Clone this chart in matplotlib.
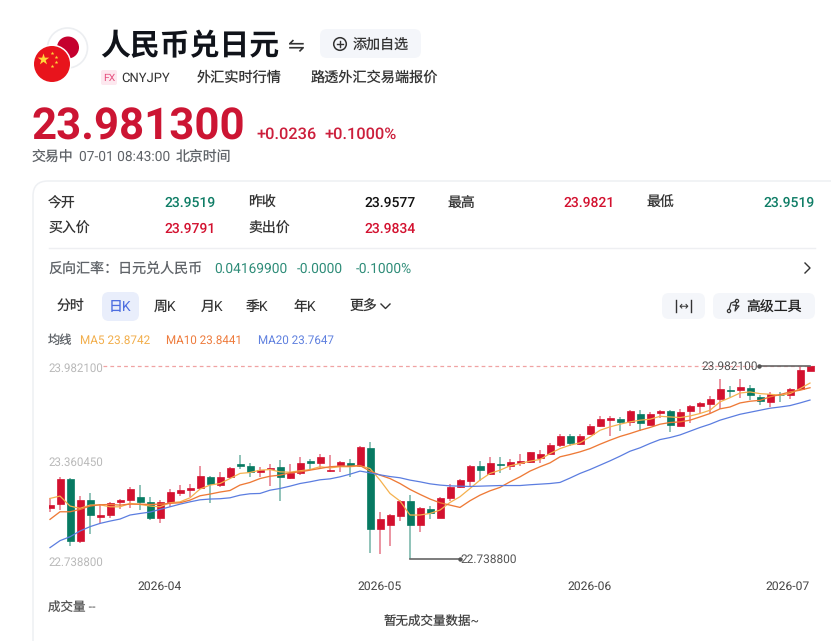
import matplotlib
matplotlib.use('Agg')
import matplotlib.pyplot as plt
import numpy as np
from matplotlib.patches import Circle, FancyBboxPatch

plt.rcParams['font.family'] = ['Roboto', 'Noto Sans CJK SC', 'DejaVu Sans']
plt.rcParams['text.hinting'] = 'no_hinting'

# daily candles, oldest first
opens = [23.071, 23.092, 23.259, 22.854, 23.120, 23.013, 23.024, 23.105, 23.124, 23.142,
         23.105, 23.007, 23.109, 23.169, 23.187, 23.199, 23.270, 23.217, 23.268, 23.352,
         23.341, 23.298, 23.322, 23.335, 23.264, 23.292, 23.369, 23.358, 23.305, 23.347,
         23.360, 23.339, 23.457, 22.931, 22.959, 23.019, 23.114, 22.959, 23.064, 23.007,
         23.131, 23.202, 23.245, 23.339, 23.287, 23.350, 23.341, 23.356, 23.365, 23.392,
         23.420, 23.474, 23.532, 23.482, 23.545, 23.598, 23.637, 23.643, 23.624, 23.673,
         23.607, 23.682, 23.695, 23.600, 23.693, 23.727, 23.740, 23.774, 23.828, 23.830,
         23.841, 23.785, 23.753, 23.800, 23.798, 23.836, 23.9519]
closes = [23.088, 23.259, 22.854, 23.120, 23.024, 23.024, 23.103, 23.120, 23.193, 23.105,
          23.007, 23.105, 23.174, 23.184, 23.199, 23.274, 23.221, 23.266, 23.328, 23.343,
          23.298, 23.313, 23.330, 23.270, 23.292, 23.362, 23.358, 23.397, 23.313, 23.367,
          23.343, 23.463, 22.934, 22.998, 23.024, 23.116, 22.959, 23.071, 23.034, 23.131,
          23.204, 23.247, 23.341, 23.315, 23.356, 23.345, 23.365, 23.369, 23.429, 23.420,
          23.472, 23.532, 23.485, 23.536, 23.600, 23.645, 23.648, 23.626, 23.695, 23.615,
          23.678, 23.697, 23.603, 23.688, 23.729, 23.748, 23.770, 23.838, 23.823, 23.849,
          23.798, 23.759, 23.802, 23.796, 23.836, 23.9577, 23.9813]
highs = [23.131, 23.270, 23.262, 23.146, 23.163, 23.094, 23.109, 23.127, 23.206, 23.217,
         23.142, 23.124, 23.191, 23.217, 23.221, 23.339, 23.277, 23.298, 23.335, 23.410,
         23.360, 23.335, 23.352, 23.377, 23.352, 23.399, 23.382, 23.416, 23.410, 23.371,
         23.382, 23.467, 23.497, 23.041, 23.030, 23.120, 23.152, 23.073, 23.082, 23.142,
         23.227, 23.253, 23.347, 23.371, 23.395, 23.395, 23.386, 23.414, 23.433, 23.446,
         23.485, 23.543, 23.543, 23.549, 23.613, 23.660, 23.660, 23.656, 23.699, 23.703,
         23.688, 23.699, 23.703, 23.710, 23.735, 23.753, 23.793, 23.903, 23.855, 23.903,
         23.860, 23.796, 23.817, 23.817, 23.845, 23.978, 23.9821]
lows = [23.045, 23.056, 22.824, 22.841, 22.899, 22.974, 23.007, 23.060, 23.067, 23.056,
        22.992, 22.970, 23.077, 23.148, 23.137, 23.189, 23.099, 23.202, 23.259, 23.320,
        23.270, 23.270, 23.210, 23.116, 23.259, 23.285, 23.313, 23.324, 23.302, 23.302,
        23.270, 23.335, 22.781, 22.775, 22.826, 22.987, 22.7388, 22.916, 23.000, 23.002,
        23.114, 23.195, 23.202, 23.242, 23.281, 23.296, 23.313, 23.341, 23.360, 23.362,
        23.414, 23.463, 23.467, 23.478, 23.538, 23.592, 23.532, 23.564, 23.596, 23.566,
        23.603, 23.648, 23.560, 23.596, 23.618, 23.673, 23.682, 23.708, 23.785, 23.778,
        23.763, 23.731, 23.720, 23.753, 23.774, 23.828, 23.9519]

ma5 = [23.131, 23.146, 23.082, 23.067, 23.088, 23.090, 23.077, 23.077, 23.099, 23.092,
       23.082, 23.077, 23.103, 23.109, 23.135, 23.191, 23.217, 23.227, 23.259, 23.292,
       23.298, 23.313, 23.317, 23.302, 23.300, 23.309, 23.317, 23.335, 23.328, 23.335,
       23.335, 23.341, 23.324, 23.249, 23.163, 23.114, 23.024, 23.024, 23.034, 23.056,
       23.105, 23.142, 23.195, 23.249, 23.292, 23.313, 23.341, 23.356, 23.371, 23.382,
       23.420, 23.452, 23.474, 23.489, 23.527, 23.570, 23.592, 23.609, 23.624, 23.635,
       23.641, 23.660, 23.656, 23.652, 23.662, 23.678, 23.699, 23.753, 23.780, 23.810,
       23.817, 23.806, 23.802, 23.796, 23.806, 23.838, 23.8742]
ma10 = [22.996, 23.045, 23.045, 23.060, 23.082, 23.090, 23.092, 23.088, 23.094, 23.094,
        23.092, 23.094, 23.099, 23.103, 23.120, 23.148, 23.159, 23.172, 23.182, 23.217,
        23.234, 23.259, 23.274, 23.281, 23.296, 23.302, 23.313, 23.324, 23.335, 23.339,
        23.339, 23.343, 23.307, 23.281, 23.259, 23.227, 23.189, 23.157, 23.127, 23.103,
        23.088, 23.073, 23.116, 23.152, 23.180, 23.202, 23.238, 23.270, 23.307, 23.335,
        23.360, 23.399, 23.414, 23.431, 23.452, 23.480, 23.506, 23.530, 23.549, 23.570,
        23.588, 23.609, 23.620, 23.624, 23.635, 23.656, 23.678, 23.708, 23.720, 23.746,
        23.757, 23.763, 23.785, 23.800, 23.817, 23.828, 23.8441]
ma20 = [22.814, 22.859, 22.884, 22.921, 22.949, 22.970, 22.985, 22.998, 23.024, 23.034,
        23.043, 23.060, 23.077, 23.094, 23.109, 23.122, 23.127, 23.129, 23.135, 23.152,
        23.161, 23.163, 23.184, 23.195, 23.210, 23.227, 23.238, 23.251, 23.257, 23.270,
        23.287, 23.307, 23.296, 23.283, 23.272, 23.264, 23.249, 23.238, 23.225, 23.217,
        23.212, 23.210, 23.208, 23.210, 23.212, 23.214, 23.214, 23.214, 23.219, 23.223,
        23.227, 23.234, 23.262, 23.292, 23.317, 23.345, 23.373, 23.403, 23.435, 23.457,
        23.485, 23.510, 23.523, 23.540, 23.564, 23.588, 23.609, 23.635, 23.654, 23.673,
        23.686, 23.699, 23.712, 23.720, 23.729, 23.746, 23.7647]

month_ticks = [11, 33, 54, 76]
month_labels = ['2026-04', '2026-05', '2026-06', '2026-07']
price_high = 23.9821
price_low = 22.7388
price_high_idx = 76
price_low_idx = 36

RED = '#d3112f'
GREEN = '#077a62'
TEXT = '#333333'
GREY = '#5f6368'
BTN = '#f4f6fa'

fig = plt.figure(figsize=(8.31, 6.41), dpi=100, facecolor='white')

# page layer in pixel coordinates
ui = fig.add_axes([0, 0, 1, 1])
ui.set_xlim(0, 831)
ui.set_ylim(641, 0)
ui.axis('off')


def label(x, y, s, size=10, color=TEXT, ha='left', weight='normal', **kw):
    # baseline alignment keeps latin and CJK runs on one line
    base = y + 0.36 * size * 100 / 72
    if ha == 'left':
        x -= 0.8
    return ui.text(x, base, s, fontsize=size, color=color, ha=ha, va='baseline', fontweight=weight, **kw)


def button(x0, y0, x1, y1, color=BTN, r=7):
    box = FancyBboxPatch((x0 + r, y0 + r), x1 - x0 - 2 * r, y1 - y0 - 2 * r,
                         boxstyle=f'round,pad={r}', fc=color, ec='none')
    ui.add_patch(box)


# flags
ui.add_patch(Circle((67.5, 48), 20, fc='white', ec='#eceef1', lw=1.2))
ui.add_patch(Circle((68, 47.5), 11, fc='#c5002e', ec='none'))
ui.add_patch(Circle((52, 64), 19.5, fc='white', ec='none'))
ui.add_patch(Circle((52, 64), 18, fc='#e8141c', ec='none'))
ui.scatter([42.7], [58.5], marker='*', s=75, color='#ffd83a', zorder=3, lw=0)
ui.scatter([51.7, 56, 56, 51.7], [53.3, 56.7, 61.7, 65.7], marker='*', s=8, color='#ffd83a', zorder=3, lw=0)

# header
label(101, 44, '人民币兑日元', size=21.5, color='#10131a', weight='bold')
label(295, 45, '⇋', size=14.5, color='#333333', ha='center', family='DejaVu Sans')
button(320, 29, 421, 58)
ui.add_patch(Circle((340, 44), 6.3, fc='none', ec='#333333', lw=1.1))
ui.plot([336.8, 343.2], [44, 44], color='#333333', lw=1)
ui.plot([340, 340], [40.8, 47.2], color='#333333', lw=1)
label(353, 44, '添加自选', size=10.1, color='#333333')
button(101, 70, 117, 85, color='#fde8ef', r=2)
label(109, 77.5, 'FX', size=7.5, color='#e6507f', ha='center')
label(122, 77, 'CNYJPY', size=9.4)
label(198, 77, '外汇实时行情', size=10.2)
label(311, 77, '路透外汇交易端报价', size=10.2)

label(32, 124, '23.981300', size=31.5, color='#cc1533', weight='bold')
label(257, 133, '+0.0236', size=11.8, color='#cc1f3c', weight='medium')
label(325, 133, '+0.1000%', size=11.8, color='#cc1f3c', weight='medium')
label(32, 156, '交易中', size=10, color=GREY)
label(80, 156, '07-01 08:43:00', size=9.9, color=GREY)
label(177, 156, '北京时间', size=10, color=GREY)

# quote card
ui.add_patch(FancyBboxPatch((48, 196), 820, 600, boxstyle='round,pad=15', fc='white', ec='#eef0f3', lw=1.1))

label(49, 201.5, '今开')
label(216, 201.5, '23.9519', color='#0f7d66', ha='right', weight='medium')
label(249, 201.5, '昨收')
label(416, 201.5, '23.9577', color='#111111', ha='right', weight='medium')
label(448, 201.5, '最高')
label(615, 201.5, '23.9821', color=RED, ha='right', weight='medium')
label(647, 201.5, '最低')
label(815, 201.5, '23.9519', color='#0f7d66', ha='right', weight='medium')
label(49, 228, '买入价')
label(216, 228, '23.9791', color=RED, ha='right', weight='medium')
label(249, 228, '卖出价')
label(416, 228, '23.9834', color=RED, ha='right', weight='medium')
ui.plot([49, 815], [247.5, 247.5], color='#eeeff2', lw=1)

label(49, 268, '反向汇率：日元兑人民币', size=10.1, color=GREY)
label(215, 268, '0.04169900', size=9.9, color='#2f8d79')
label(298, 268, '-0.0000', size=9.9, color='#2f8d79')
label(357, 268, '-0.1000%', size=9.9, color='#2f8d79')
ui.plot([805, 810, 805], [263, 268, 273], color='#333333', lw=1)

# period tabs
button(102, 292, 139, 321, color='#e9eefb')
label(57, 306, '分时')
label(110, 306, '日K', color='#4d6ee0')
label(155, 306, '周K')
label(202, 306, '月K')
label(247, 306, '季K')
label(294, 306, '年K')
label(350, 306, '更多')
ui.plot([381, 385.5, 390], [304, 308.5, 304], color='#333333', lw=1)

button(662, 293, 705, 319)
ui.plot([676, 676], [300, 312], color='#333333', lw=1)
ui.plot([691, 691], [300, 312], color='#333333', lw=1)
label(683.5, 306, '↔', size=8.5, color='#333333', ha='center', family='DejaVu Sans')
button(713, 293, 815, 319)
ui.plot([729, 731, 737, 735, 739, 733], [310, 303, 301, 311, 306, 305], color='#333333', lw=0.9)
ui.add_patch(Circle((729, 311), 1.6, fc='white', ec='#333333', lw=0.9, zorder=3))
ui.add_patch(Circle((737, 301), 1.6, fc='white', ec='#333333', lw=0.9, zorder=3))
label(747, 306, '高级工具', size=10, color='#222222')

label(49, 340, '均线', size=8.8, color=GREY)
label(81, 340, 'MA5 23.8742', size=8.5, color='#f2ae4b')
label(167, 340, 'MA10 23.8441', size=8.4, color='#ee7b3c')
label(259, 340, 'MA20 23.7647', size=8.4, color='#5f80df')

# axis text that sits inside the plot
label(49, 368, '23.982100', size=8.3, color='#b9b9b9')
label(49, 462, '23.360450', size=8.3, color='#b9b9b9')
label(49, 562, '22.738800', size=8.3, color='#b9b9b9')

label(49, 607, '成交量 --', size=9, color='#555555')
label(432, 621, '暂无成交量数据~', size=9, color='#444444', ha='center')

# candlestick panel
px_left, px_right, px_top, px_bottom = 49, 815, 360, 570
ax = fig.add_axes([px_left / 831, 1 - px_bottom / 641, (px_right - px_left) / 831, (px_bottom - px_top) / 641])
ax.patch.set_alpha(0)
ax.set_xlim(-0.1, 76.5)
ax.set_ylim(22.6699, 24.0227)
for s in ax.spines.values():
    s.set_visible(False)
ax.set_yticks([])
ax.set_xticks(month_ticks)
ax.set_xticklabels(month_labels, fontsize=8.7, color='#444444')
ax.get_xticklabels()[-1].set_ha('right')
ax.tick_params(axis='x', length=0, pad=7.5)

idx = np.arange(len(opens))
o = np.array(opens)
c = np.array(closes)
up = c >= o
colors = np.where(up, RED, GREEN)

ax.axhline(price_high, color='#f0a3a3', lw=0.9, ls=(0, (3, 2.5)), xmin=0.07, zorder=1)
ax.vlines(idx, lows, highs, colors=colors, lw=1.15, alpha=0.55, zorder=2)
ax.bar(idx, np.abs(c - o), bottom=np.minimum(o, c), width=0.7, color=colors,
       edgecolor=colors, linewidth=0.5, zorder=3)

ax.plot(idx, ma5, color='#f5b14e', lw=0.9, zorder=4)
ax.plot(idx, ma10, color='#ee7a37', lw=0.95, zorder=4)
ax.plot(idx, ma20, color='#5b7de0', lw=0.9, zorder=4)

# extreme price markers
ax.plot([price_low_idx, 41], [price_low, price_low], color='#666666', lw=1.2, zorder=5)
ax.plot([41], [price_low], 'o', color='#555555', ms=2.2, zorder=5)
ax.text(41.05, price_low, f'{price_low:.6f}', fontsize=8.6, color='#555555', va='center')
ax.plot([70.9, price_high_idx], [price_high, price_high], color='#666666', lw=1.2, zorder=5)
ax.plot([70.9], [price_high], 'o', color='#555555', ms=2.2, zorder=5)
ax.text(70.8, price_high, f'{price_high:.6f}', fontsize=8.6, color='#555555', va='center', ha='right')

fig.savefig('out.png', dpi=100)
